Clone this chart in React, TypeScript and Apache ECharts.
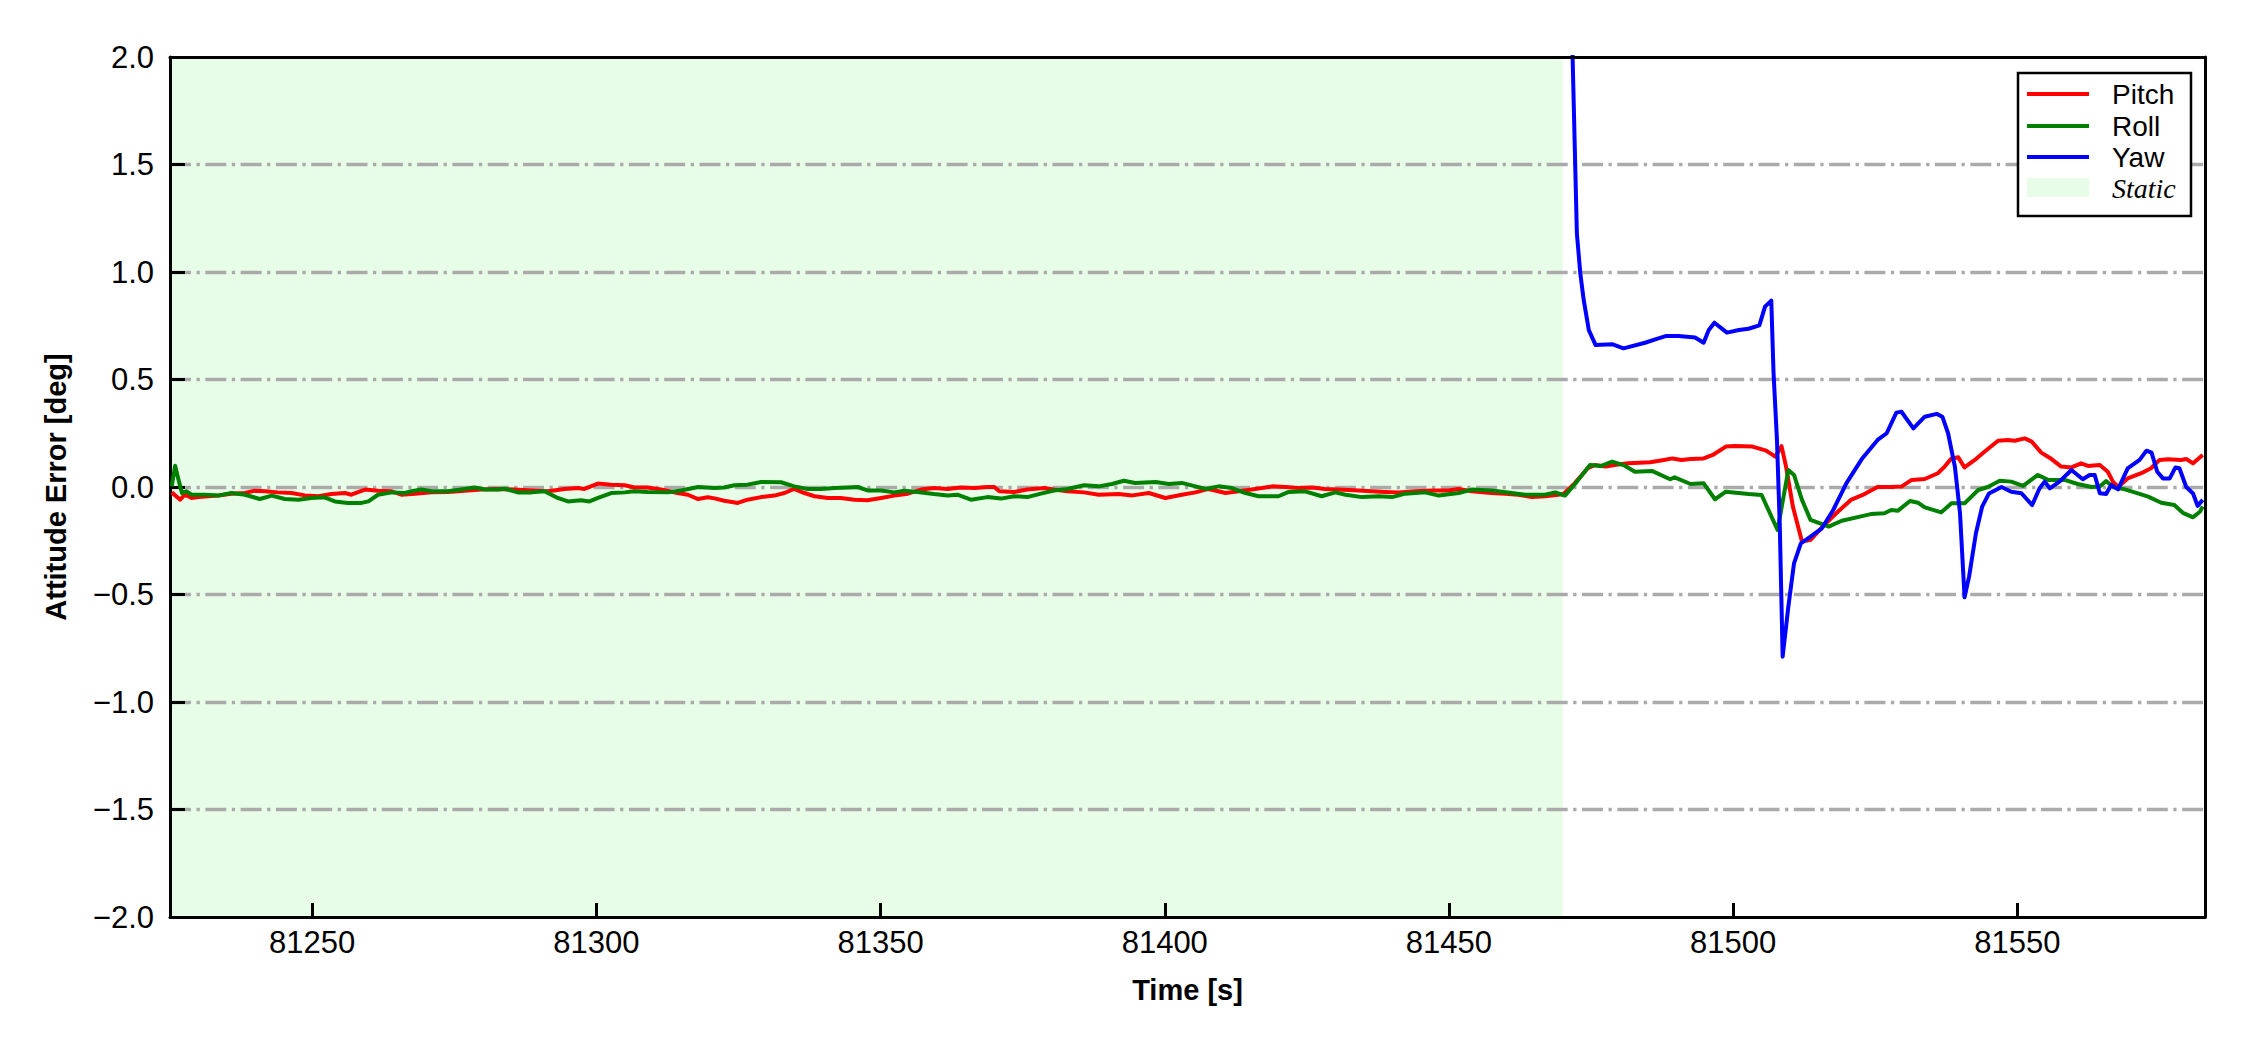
import React, { useEffect, useRef } from "react";
import * as echarts from "echarts";

// ---------------- data ----------------
const xMin = 81225;
const xMax = 81583;
const xTicks = [81250, 81300, 81350, 81400, 81450, 81500, 81550];
const yMin = -2;
const yMax = 2;
const yStep = 0.5;
const staticStart = 81225;
const staticEnd = 81470;

const seriesNames = ["Pitch", "Roll", "Yaw"];
const seriesColors = ["#ff0000", "#008000", "#0000ff"];
const staticName = "Static";
const staticColor = "#e8fde8";

const pitch: [number, number][] = [
  [81225.3, -0.025], [81226.8, -0.059], [81227.6, -0.036], [81228.8, -0.051], [81230.0, -0.047],
  [81231.7, -0.043], [81233.5, -0.040], [81235.8, -0.031], [81238.2, -0.028], [81239.9, -0.017],
  [81241.7, -0.020], [81244.0, -0.025], [81246.4, -0.028], [81248.7, -0.039], [81251.1, -0.043],
  [81253.4, -0.033], [81255.8, -0.028], [81256.9, -0.036], [81259.3, -0.012], [81261.6, -0.017],
  [81264.0, -0.020], [81265.7, -0.036], [81268.1, -0.031], [81271.0, -0.025], [81273.9, -0.023],
  [81276.8, -0.017], [81279.8, -0.012], [81282.7, -0.009], [81285.6, -0.012], [81288.6, -0.016],
  [81291.5, -0.020], [81294.4, -0.009], [81296.8, -0.005], [81297.9, -0.009], [81300.3, 0.016],
  [81302.6, 0.011], [81305.0, 0.008],
  [81306.7, -0.002], [81309.0, -0.002], [81311.4, -0.012], [81314.3, -0.028], [81316.1, -0.036],
  [81317.9, -0.056], [81319.6, -0.048], [81320.8, -0.053], [81322.5, -0.064], [81324.9, -0.074],
  [81326.6, -0.059], [81329.0, -0.047], [81331.3, -0.040], [81333.1, -0.028], [81334.8, -0.009],
  [81336.6, -0.028], [81338.4, -0.043], [81340.7, -0.051], [81343.0, -0.051], [81345.4, -0.059],
  [81347.7, -0.062], [81350.1, -0.051], [81352.4, -0.040], [81354.8, -0.031], [81357.1, -0.012],
  [81359.4, -0.005], [81361.8, -0.009], [81364.1, -0.002], [81366.5, -0.005], [81368.8, 0.000],
  [81370.0, 0.000], [81370.9, -0.020], [81373.5, -0.023], [81375.8, -0.012], [81378.8, -0.005],
  [81380.5, -0.012], [81382.9, -0.020], [81385.8, -0.025],
  [81388.4, -0.036], [81391.9, -0.033], [81394.3, -0.039], [81397.2, -0.028], [81400.1, -0.051],
  [81403.0, -0.036], [81405.4, -0.025], [81407.7, -0.009], [81410.7, -0.028], [81413.0, -0.020],
  [81415.9, -0.009], [81418.9, 0.003], [81421.2, 0.000], [81423.5, -0.005], [81425.9, -0.002],
  [81428.2, -0.009], [81430.6, -0.012], [81434.1, -0.016], [81436.4, -0.020], [81438.8, -0.023],
  [81441.1, -0.025], [81444.1, -0.020], [81447.0, -0.016], [81449.9, -0.016], [81451.7, -0.009],
  [81454.0, -0.020], [81457.5, -0.028], [81459.9, -0.031], [81462.2, -0.036], [81464.6, -0.047],
  [81466.9, -0.043], [81469.2, -0.036],
  [81470.1, -0.033], [81472.1, 0.017], [81474.4, 0.087], [81475.6, 0.102], [81477.6, 0.095],
  [81479.1, 0.102], [81481.5, 0.110], [81485.4, 0.115], [81487.8, 0.126], [81489.3, 0.133],
  [81490.9, 0.126], [81492.5, 0.130], [81494.8, 0.133], [81496.4, 0.149], [81498.7, 0.188],
  [81500.3, 0.191], [81503.4, 0.188], [81505.8, 0.169], [81507.4, 0.141], [81508.5, 0.190],
  [81509.3, 0.095], [81510.5, -0.091], [81512.1, -0.254], [81513.6, -0.246], [81516.0, -0.177],
  [81518.4, -0.115], [81520.7, -0.060], [81523.1, -0.033], [81525.4, 0.000], [81527.8, 0.000],
  [81529.6, 0.002], [81531.4, 0.033], [81533.7, 0.037], [81536.0, 0.064], [81537.2, 0.095],
  [81538.4, 0.133], [81539.6, 0.138], [81540.7, 0.091], [81542.5, 0.126], [81544.2, 0.164],
  [81546.6, 0.215], [81548.3, 0.219], [81549.5, 0.215], [81551.3, 0.226], [81552.5, 0.211],
  [81554.2, 0.160], [81556.0, 0.130], [81557.7, 0.095], [81559.5, 0.091], [81561.2, 0.110],
  [81562.4, 0.098], [81564.5, 0.102], [81565.9, 0.071], [81566.8, 0.025], [81567.7, 0.000],
  [81569.4, 0.040], [81571.8, 0.064], [81573.5, 0.087], [81575.0, 0.126], [81576.5, 0.129],
  [81578.8, 0.126], [81579.7, 0.130], [81580.9, 0.110], [81582.6, 0.149],
];

const roll: [number, number][] = [
  [81225.3, 0.003], [81225.9, 0.099], [81226.5, 0.034], [81227.1, -0.028], [81227.9, -0.020],
  [81228.8, -0.036], [81231.1, -0.036], [81233.5, -0.040], [81235.8, -0.028], [81238.2, -0.036],
  [81240.8, -0.056], [81242.9, -0.040], [81245.2, -0.056], [81247.6, -0.059], [81249.9, -0.051],
  [81252.2, -0.048], [81254.0, -0.067], [81256.3, -0.074], [81258.7, -0.074], [81259.9, -0.067],
  [81261.6, -0.036], [81264.0, -0.025], [81266.3, -0.028], [81267.5, -0.020], [81269.2, -0.012],
  [81271.0, -0.020], [81273.9, -0.020], [81276.8, -0.009], [81278.6, -0.002], [81280.4, -0.012],
  [81282.7, -0.012], [81283.9, -0.008], [81286.2, -0.025], [81288.6, -0.025], [81290.9, -0.020],
  [81293.2, -0.051], [81295.0, -0.067], [81297.3, -0.062], [81298.8, -0.067], [81300.3, -0.051],
  [81302.6, -0.028], [81305.0, -0.025],
  [81306.7, -0.020], [81309.0, -0.023], [81312.6, -0.025], [81314.9, -0.016], [81317.9, 0.000],
  [81320.8, -0.005], [81322.5, -0.002], [81324.3, 0.008], [81326.6, 0.011], [81329.0, 0.023],
  [81332.5, 0.022], [81334.8, 0.003], [81337.2, -0.009], [81339.5, -0.009], [81341.9, -0.005],
  [81344.2, -0.002], [81346.0, 0.000], [81347.7, -0.016], [81350.1, -0.016], [81352.4, -0.025],
  [81354.2, -0.017], [81356.5, -0.023], [81359.4, -0.033], [81361.8, -0.039], [81363.5, -0.036],
  [81365.9, -0.059], [81368.8, -0.047], [81371.2, -0.054], [81373.5, -0.043], [81375.8, -0.047],
  [81378.2, -0.031], [81380.5, -0.016], [81382.9, -0.009], [81385.8, 0.008],
  [81388.4, 0.003], [81390.7, 0.014], [81392.8, 0.029], [81394.8, 0.019], [81398.4, 0.023],
  [81400.7, 0.014], [81403.0, 0.019], [81405.4, 0.003], [81407.2, -0.009], [81409.5, 0.003],
  [81411.8, -0.005], [81414.2, -0.028], [81416.5, -0.043], [81420.0, -0.043], [81421.8, -0.023],
  [81424.7, -0.020], [81427.6, -0.043], [81430.0, -0.025], [81431.8, -0.036], [81434.7, -0.047],
  [81437.6, -0.043], [81440.0, -0.047], [81442.3, -0.031], [81445.8, -0.025], [81448.2, -0.040],
  [81451.7, -0.028], [81454.0, -0.012], [81457.5, -0.016], [81461.0, -0.028], [81463.4, -0.036],
  [81466.9, -0.036], [81468.7, -0.025], [81470.4, -0.040],
  [81472.5, 0.025], [81474.8, 0.102], [81476.8, 0.098], [81478.7, 0.118], [81480.7, 0.102],
  [81482.7, 0.071], [81485.8, 0.074], [81488.9, 0.036], [81489.7, 0.045], [81492.5, 0.014],
  [81494.8, 0.017], [81496.8, -0.057], [81498.7, -0.022], [81502.7, -0.033], [81505.0, -0.037],
  [81507.8, -0.200], [81509.7, 0.079], [81510.7, 0.056], [81512.1, -0.060], [81513.6, -0.153],
  [81516.8, -0.184], [81519.1, -0.157], [81522.3, -0.138], [81524.2, -0.126], [81526.6, -0.122],
  [81527.8, -0.107], [81529.0, -0.110], [81531.1, -0.065], [81532.5, -0.073], [81533.7, -0.095],
  [81536.6, -0.118], [81538.4, -0.076], [81540.7, -0.076], [81543.1, -0.014], [81544.8, 0.000],
  [81546.9, 0.029], [81548.9, 0.025], [81551.0, 0.005], [81553.6, 0.056], [81555.4, 0.033],
  [81558.3, 0.033], [81560.6, 0.014], [81563.0, 0.000], [81564.5, 0.002], [81565.6, 0.028],
  [81566.8, 0.000], [81568.9, -0.011], [81571.2, -0.030], [81573.0, -0.045], [81575.3, -0.073],
  [81577.6, -0.084], [81579.1, -0.120], [81580.9, -0.141], [81582.1, -0.115], [81582.6, -0.091],
];

const yaw: [number, number][] = [
  [81471.2, 2.6], [81472.1, 1.614], [81472.5, 1.180], [81473.1, 0.994], [81473.7, 0.870],
  [81474.6, 0.730], [81475.8, 0.660], [81478.7, 0.664], [81480.7, 0.645], [81484.5, 0.671],
  [81486.3, 0.687], [81488.1, 0.702], [81490.4, 0.702], [81493.3, 0.695], [81494.8, 0.671],
  [81495.7, 0.730], [81496.7, 0.764], [81498.9, 0.718], [81501.0, 0.730], [81502.7, 0.736],
  [81504.6, 0.752], [81505.6, 0.839], [81506.7, 0.867], [81507.1, 0.529], [81507.7, 0.219],
  [81508.2, -0.184], [81508.7, -0.789], [81509.7, -0.557], [81510.7, -0.355], [81511.9, -0.262],
  [81513.6, -0.231], [81515.6, -0.192], [81517.6, -0.107], [81519.9, 0.017], [81522.7, 0.133],
  [81525.4, 0.219], [81527.0, 0.250], [81528.7, 0.346], [81529.6, 0.350], [81531.7, 0.273],
  [81533.7, 0.327], [81535.8, 0.340], [81536.8, 0.327], [81537.8, 0.250], [81539.0, 0.095],
  [81539.9, -0.122], [81540.7, -0.513], [81541.5, -0.417], [81542.7, -0.215], [81543.8, -0.091],
  [81545.0, -0.030], [81547.2, 0.000], [81548.9, -0.022], [81550.7, -0.029], [81552.6, -0.084],
  [81553.9, -0.006], [81554.8, 0.025], [81555.7, -0.006], [81557.4, 0.025], [81559.5, 0.079],
  [81561.5, 0.036], [81562.7, 0.056], [81563.6, 0.056], [81564.5, -0.029], [81565.6, -0.033],
  [81566.5, 0.009], [81567.7, -0.011], [81569.4, 0.087], [81571.5, 0.126], [81572.7, 0.169],
  [81573.6, 0.160], [81574.6, 0.071], [81575.6, 0.040], [81576.8, 0.040], [81577.8, 0.091],
  [81578.5, 0.087], [81579.7, 0.000], [81580.9, -0.030], [81581.7, -0.088], [81582.6, -0.060],
];

const seriesData = [pitch, roll, yaw];

// ---------------- chart ----------------
const FONT = '"Liberation Sans", Arial, Helvetica, sans-serif';
const SERIF = '"Liberation Serif", "Times New Roman", serif';

const fmtY = (v: number) => (v < 0 ? "\u2212" : "") + Math.abs(v).toFixed(1);

export default function App() {
  const ref = useRef<HTMLDivElement>(null);

  useEffect(() => {
    if (!ref.current) return;
    const chart = echarts.init(ref.current, undefined, { renderer: "svg" });

    const legendX = 2018;
    const legendY = 73;
    const rowY = [94, 126, 157, 188];

    const graphic: any[] = [
      {
        type: "rect",
        z: 100,
        shape: { x: legendX, y: legendY, width: 173, height: 143 },
        style: { fill: "#ffffff", stroke: "#000000", lineWidth: 2.5 },
      },
    ];
    seriesNames.forEach((name, i) => {
      graphic.push({
        type: "line",
        z: 101,
        shape: { x1: 2027, y1: rowY[i], x2: 2089, y2: rowY[i] },
        style: { stroke: seriesColors[i], lineWidth: 4 },
      });
      graphic.push({
        type: "text",
        z: 101,
        x: 2112,
        y: rowY[i],
        style: {
          text: name,
          fontFamily: FONT,
          fontSize: 28,
          fill: "#000",
          verticalAlign: "middle",
          align: "left",
        },
      });
    });
    graphic.push({
      type: "rect",
      z: 101,
      shape: { x: 2027, y: rowY[3] - 10, width: 62, height: 19 },
      style: { fill: staticColor },
    });
    graphic.push({
      type: "text",
      z: 101,
      x: 2112,
      y: rowY[3],
      style: {
        text: staticName,
        fontFamily: SERIF,
        fontStyle: "italic",
        fontSize: 28,
        fill: "#000",
        verticalAlign: "middle",
        align: "left",
      },
    });

    const series: any[] = seriesNames.map((name, i) => ({
      name,
      type: "line",
      data: seriesData[i],
      showSymbol: false,
      symbol: "none",
      z: 2,
      clip: true,
      lineStyle: { color: seriesColors[i], width: 4, join: "round" },
      itemStyle: { color: seriesColors[i] },
      ...(i === 0
        ? {
            markArea: {
              silent: true,
              z: 1,
              itemStyle: { color: staticColor, borderWidth: 0 },
              label: { show: false },
              data: [[{ xAxis: staticStart }, { xAxis: staticEnd }]],
            },
          }
        : {}),
    }));

    chart.setOption({
      animation: false,
      backgroundColor: "#ffffff",
      grid: {
        left: 170,
        right: 45,
        top: 57,
        bottom: 133,
        containLabel: false,
        outerBoundsMode: "none",
      },
      xAxis: [
        {
          type: "value",
          min: xMin,
          max: xMax,
          position: "bottom",
          z: 3,
          axisLine: { show: true, onZero: false, lineStyle: { color: "#000", width: 3 } },
          axisTick: {
            show: true,
            inside: true,
            length: 14,
            customValues: xTicks,
            lineStyle: { color: "#000", width: 3 },
          },
          axisLabel: {
            show: true,
            customValues: xTicks,
            formatter: (v: number) => String(v),
            fontFamily: FONT,
            fontSize: 31,
            color: "#000",
            margin: 10,
          },
          splitLine: { show: false },
          name: "Time [s]",
          nameLocation: "middle",
          nameGap: 58,
          nameTextStyle: { fontFamily: FONT, fontSize: 29, fontWeight: "bold", color: "#000" },
        },
        {
          type: "value",
          min: xMin,
          max: xMax,
          position: "top",
          z: 3,
          axisLine: { show: true, onZero: false, lineStyle: { color: "#000", width: 3 } },
          axisTick: { show: false },
          axisLabel: { show: false },
          splitLine: { show: false },
        },
      ],
      yAxis: [
        {
          type: "value",
          min: yMin,
          max: yMax,
          interval: yStep,
          position: "left",
          z: 1.5,
          axisLine: { show: true, onZero: false, lineStyle: { color: "#000", width: 3 } },
          axisTick: { show: true, inside: true, length: 15, lineStyle: { color: "#000", width: 3 } },
          axisLabel: {
            formatter: fmtY,
            fontFamily: FONT,
            fontSize: 31,
            color: "#000",
            margin: 16,
          },
          splitLine: {
            show: true,
            showMinLine: false,
            showMaxLine: false,
            lineStyle: { color: "#aaaaaa", width: 3.3, type: [21, 5.5, 3.3, 5.5] },
          },
          name: "Attitude Error [deg]",
          nameLocation: "middle",
          nameGap: 100,
          nameTextStyle: { fontFamily: FONT, fontSize: 29, fontWeight: "bold", color: "#000" },
        },
        {
          type: "value",
          min: yMin,
          max: yMax,
          position: "right",
          z: 3,
          axisLine: { show: true, onZero: false, lineStyle: { color: "#000", width: 3 } },
          axisTick: { show: false },
          axisLabel: { show: false },
          splitLine: { show: false },
        },
      ],
      series,
      graphic,
    });

    return () => chart.dispose();
  }, []);

  return (
    <div
      ref={ref}
      style={{ position: "absolute", left: 0, top: 0, width: 2250, height: 1050, background: "#fff" }}
    />
  );
}
